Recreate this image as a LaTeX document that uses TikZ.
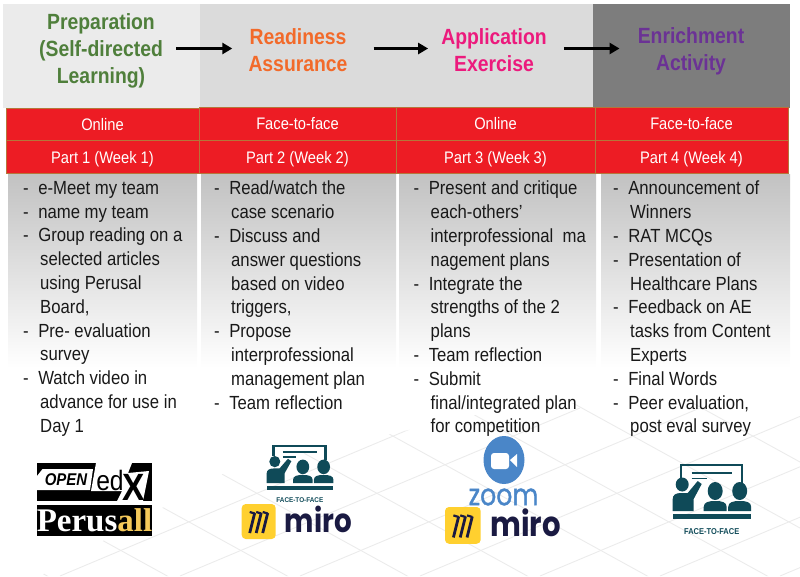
\documentclass[tikz,border=0pt]{standalone}
\usepackage{fontspec}
\setmainfont[FakeStretch=0.88]{Liberation Sans}
\newfontfamily\logofont[FakeStretch=0.84]{Poppins}
\newfontfamily\zoomfont[FakeStretch=0.84,FakeBold=1.2]{Poppins}
\newfontfamily\perusfont{Liberation Serif}
\usepackage{xcolor}
\usepackage{tikz}
\usetikzlibrary{arrows.meta}
\definecolor{cellred}{HTML}{ED1C24}
\definecolor{cellrule}{HTML}{B5763A}
\definecolor{prepgreen}{HTML}{4F7F3B}
\definecolor{readyorange}{HTML}{F26A2A}
\definecolor{apppink}{HTML}{EC1A7D}
\definecolor{enrichpurple}{HTML}{6B3295}
\definecolor{iconteal}{HTML}{0F4A58}
\definecolor{miroyellow}{HTML}{FFD02F}
\definecolor{mironavy}{HTML}{1A1A42}
\definecolor{zoomblue}{HTML}{4A86C8}
\definecolor{perusyellow}{HTML}{F5C95A}
\newcommand{\dashitem}{-\hspace*{9.5pt}}
\newcommand{\contline}{\hspace*{17pt}}
\tikzset{
    every node/.style={inner sep=0pt},
    headtext/.style={font=\fontsize{22}{27}\selectfont\bfseries, align=center},
    cellbox/.style={draw=cellrule, fill=cellred, text=white, line width=0.8pt, minimum height=33pt,
        text height=13pt, text depth=1pt, font=\fontsize{16.7}{18}\selectfont},
    itemtext/.style={anchor=north west, align=left, text=black!90, font=\fontsize{19}{23.8}\selectfont},
    flowarrow/.style={-{Triangle[length=10pt,width=11pt]}, line width=3.4pt},
    faceicon/.pic={
        \draw[iconteal, line width=2.4pt] (8,14) -- (8,1) -- (69,1) -- (69,19);
        \draw[iconteal, line width=1.8pt] (19,9) -- (59,9) (19,14.5) -- (34,14.5);
        \fill[iconteal] (9.5,20.5) ellipse (6.5 and 7);
        \fill[iconteal] (0,47) -- (0,35) .. controls (0,31) and (3,29) .. (8,29) -- (15,29) -- (25,17) -- (29,20) -- (21,35) -- (21,47) -- cycle;
        \foreach \sx in {0,24.5}{
            \fill[iconteal, xshift=\sx pt] (42.5,27) ellipse (7.5 and 9);
            \fill[iconteal, xshift=\sx pt] (31,47) -- (31,43) .. controls (31,38) and (36,37) .. (42.5,37) .. controls (49,37) and (54,38) .. (54,43) -- (54,47) -- cycle;
        }
        \fill[iconteal] (0,50) rectangle (78,55);
        \node[text=iconteal, font=\fontsize{8.5}{9}\selectfont\bfseries] (-caption) at (39,68) {FACE-TO-FACE};
    },
    miroicon/.pic={
        \fill[miroyellow, rounded corners=4pt] (0,0) rectangle (34,35);
        \foreach \mx in {0,6.5,13}{
            \draw[mironavy, line width=2.8pt] (8+\mx,29) -- (13+\mx,9);
            \draw[mironavy, line width=2.2pt] (8+\mx,8) -- (13+\mx,9.5);
        }
        \node[text=mironavy, anchor=west, font=\fontsize{33}{35}\selectfont\logofont\bfseries] (-word) at (43,15) {miro};
    }
}

\begin{document}
\begin{tikzpicture}[x=1pt,y=-1pt]
    \useasboundingbox (0,0) rectangle (800,576);

    \begin{scope}
        \clip (40,576) -- (230,470) -- (520,405) -- (800,395) -- (800,576) -- cycle;
        \foreach \gx in {-60,60,180,300,420,540,660,780,900,1020}{
            \draw[black!8, line width=0.9pt] (\gx,576) -- ++(400,-168);
            \draw[black!8, line width=0.9pt] (\gx-340,396) -- ++(400,220);
        }
    \end{scope}

    \fill[black!8] (3,4) rectangle (200,108);
    \fill[black!14] (200,4) rectangle (593,108);
    \fill[black!51] (593,4) rectangle (790,108);

    \shade[top color=black!24, bottom color=white] (8,174) rectangle (197,368);
    \shade[top color=black!24, bottom color=white] (201,174) rectangle (396,368);
    \shade[top color=black!24, bottom color=white] (399,174) rectangle (596,368);
    \shade[top color=black!24, bottom color=white] (601,174) rectangle (790,368);

    \node[headtext, text=prepgreen] (prep) at (101,51) {Preparation\\(Self-directed\\Learning)};
    \node[headtext, text=readyorange] (ready) at (298,50) {Readiness\\Assurance};
    \node[headtext, text=apppink] (app) at (494,50) {Application\\Exercise};
    \node[headtext, text=enrichpurple] (enrich) at (691,51) {Enrichment\\Activity};

    \draw[flowarrow, shorten <=13pt, shorten >=16pt] ([yshift=2.5pt]prep.east) -- ([yshift=1.5pt]ready.west);
    \draw[flowarrow, shorten <=26pt, shorten >=13pt] ([yshift=1.5pt]ready.east) -- ([yshift=1.5pt]app.west);
    \draw[flowarrow, shorten <=17pt, shorten >=18pt] ([yshift=1.5pt]app.east) -- ([yshift=2.5pt]enrich.west);

    \node[cellbox, minimum width=193pt] (mode1) at (102.5,124.5) {Online};
    \node[cellbox, minimum width=197pt] (mode2) at (297.5,123.5) {Face-to-face};
    \node[cellbox, minimum width=199pt] (mode3) at (495.5,123.5) {Online};
    \node[cellbox, minimum width=193pt] (mode4) at (691.5,123.5) {Face-to-face};
    \node[cellbox, minimum width=193pt] (part1) at (102.5,157) {Part 1 (Week 1)};
    \node[cellbox, minimum width=197pt] (part2) at (297.5,157) {Part 2 (Week 2)};
    \node[cellbox, minimum width=199pt] (part3) at (495.5,157) {Part 3 (Week 3)};
    \node[cellbox, minimum width=193pt] (part4) at (691.5,157) {Part 4 (Week 4)};

    \node[itemtext] (list1) at (23,181) {\dashitem e-Meet my team\\\dashitem name my team\\\dashitem Group reading on a\\\contline selected articles\\\contline using Perusal\\\contline Board,\\\dashitem Pre- evaluation\\\contline survey\\\dashitem Watch video in\\\contline advance for use in\\\contline Day 1};
    \node[itemtext] (list2) at (214,181) {\dashitem Read/watch the\\\contline case scenario\\\dashitem Discuss and\\\contline answer questions\\\contline based on video\\\contline triggers,\\\dashitem Propose\\\contline interprofessional\\\contline management plan\\\dashitem Team reflection};
    \node[itemtext] (list3) at (413.5,181) {\dashitem Present and critique\\\contline each-others'\\\contline interprofessional\ \ ma\\\contline nagement plans\\\dashitem Integrate the\\\contline strengths of the 2\\\contline plans\\\dashitem Team reflection\\\dashitem Submit\\\contline final/integrated plan\\\contline for competition};
    \node[itemtext] (list4) at (613,181) {\dashitem Announcement of\\\contline Winners\\\dashitem RAT MCQs\\\dashitem Presentation of\\\contline Healthcare Plans\\\dashitem Feedback on AE\\\contline tasks from Content\\\contline Experts\\\dashitem Final Words\\\dashitem Peer evaluation,\\\contline post eval survey};

    \fill[black] (37,463) rectangle (152,501);
    \fill[white] (42.5,469) -- (93,469) -- (90,490) -- (37,490) -- (37,476) -- cycle;
    \fill[white] (96,463) -- (132,463) -- (128,473) -- (149,471) -- (143,501) -- (117,501) -- (122,491) -- (91,491) -- cycle;
    \node[font=\fontsize{17}{19}\selectfont\bfseries\itshape] (openword) at (66,480) {OPEN};
    \node[font=\fontsize{28}{30}\selectfont] (edword) at (110,480) {ed};
    \node[font=\fontsize{38}{40}\selectfont\bfseries] (xword) at (134,487) {X};
    \node[fill=black, minimum width=115pt, minimum height=31pt, font=\fontsize{33}{35}\selectfont\perusfont\bfseries] (perusword) at (94.5,520.5) {\textcolor{white}{Perus}\textcolor{perusyellow}{all}};

    \pic[xscale=0.85, yscale=0.81, transform shape] (faceleft) at (266.7,445) {faceicon};
    \pic (miroleft) at (241.7,504) {miroicon};

    \fill[zoomblue] (504,460) ellipse (20.5 and 24);
    \fill[white, rounded corners=3pt] (491,453) rectangle (509,469);
    \fill[white] (510,460) -- (517,454) -- (517,467) -- cycle;
    \node[text=zoomblue, font=\fontsize{30}{32}\selectfont\zoomfont] (zoomword) at (503.5,497) {zoom};
    \pic[scale=1.05, transform shape] (miroright) at (445,507) {miroicon};

    \pic (faceright) at (672.7,464) {faceicon};
\end{tikzpicture}
\end{document}
